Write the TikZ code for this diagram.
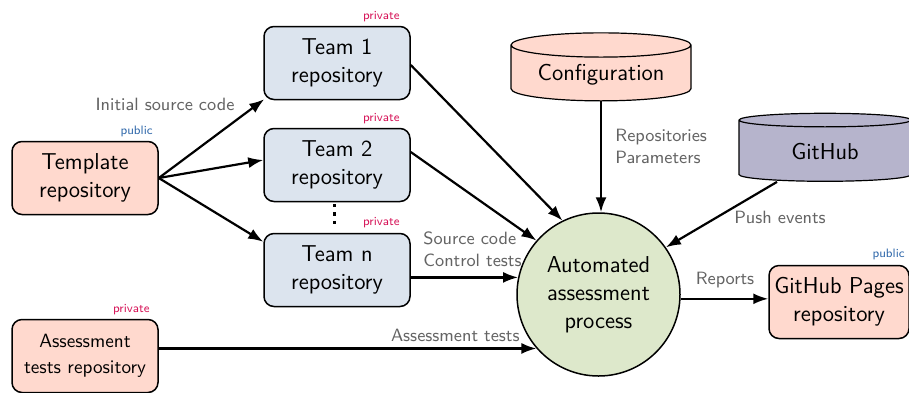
\documentclass[tikz,border=0pt]{standalone}
\usepackage{fontspec}
\usetikzlibrary{arrows.meta,shapes.geometric,calc}

\definecolor{repofill}{RGB}{255,217,206}
\definecolor{teamfill}{RGB}{220,228,238}
\definecolor{procfill}{RGB}{221,232,203}
\definecolor{hubfill}{RGB}{182,180,204}
\definecolor{pubcol}{RGB}{48,104,170}
\definecolor{privcol}{RGB}{214,20,88}
\definecolor{labelcol}{RGB}{100,100,100}

\tikzset{
  every node/.style={font=\sffamily},
  repobox/.style={draw, line width=0.75pt, rounded corners=5pt, align=center,
    minimum width=73pt, minimum height=36.5pt, inner sep=2pt,
    font=\sffamily\fontsize{11.5}{14}\selectfont},
  template/.style={repobox, fill=repofill},
  teambox/.style={repobox, fill=teamfill},
  store/.style={draw, line width=0.6pt, cylinder, shape border rotate=90, aspect=0.18,
    minimum width=90pt, minimum height=34pt, inner sep=2pt,
    font=\sffamily\fontsize{11.5}{14}\selectfont},
  procnode/.style={draw, line width=0.75pt, circle, fill=procfill, minimum size=81.5pt,
    align=center, inner sep=0pt, font=\sffamily\fontsize{11.5}{14}\selectfont},
  flow/.style={line width=1.1pt, -{Latex[length=7.5pt,width=5.5pt]}},
  edgelabel/.style={text=labelcol, inner sep=1pt, align=left,
    font=\sffamily\fontsize{8.9}{11}\selectfont},
  pubtag/.style={text=pubcol, inner sep=0pt, font=\sffamily\fontsize{6.1}{7}\selectfont},
  privtag/.style={text=privcol, inner sep=0pt, font=\sffamily\fontsize{6.1}{7}\selectfont},
}

\begin{document}
\begin{tikzpicture}[x=0.5pt,y=-0.5pt]
  \useasboundingbox (0,0) rectangle (909,392);

  % repositories
  \node[template] (tpl) at (85,178) {Template\\repository};
  \node[teambox] (t1) at (337,63) {Team 1\\repository};
  \node[teambox] (t2) at (337,165) {Team 2\\repository};
  \node[teambox] (tn) at (337,270) {Team n\\repository};
  \node[template, font=\sffamily\fontsize{9.6}{13}\selectfont] (ats) at (85,356) {Assessment\\tests repository};
  \node[template, minimum width=70pt] (pages) at (839,302) {GitHub Pages\\repository};

  % data stores
  \node[store, fill=repofill] (cfg) at (601,75) {Configuration};
  \node[store, fill=hubfill, minimum width=86pt] (hub) at (825,152) {GitHub};

  % central process
  \node[procnode] (proc) at (598.5,294.5) {Automated\\assessment\\process};

  % visibility tags
  \node[pubtag, anchor=south east] (tagtpl) at (153,137) {public};
  \node[privtag, anchor=south east] (tagt1) at (400,22) {private};
  \node[privtag, anchor=south east] (tagt2) at (400,124) {private};
  \node[privtag, anchor=south east] (tagtn) at (400,228) {private};
  \node[privtag, anchor=south east] (tagats) at (150,315) {private};
  \node[pubtag, anchor=south east] (tagpages) at (905,260) {public};

  % more teams
  \coordinate (dotsA) at (334,204);
  \coordinate (dotsB) at (334,227);
  \draw[line width=1.5pt, dash pattern=on 1.6pt off 2.6pt] (dotsA) -- (dotsB);

  % template forks
  \draw[flow] (tpl.east) -- ($(t1.south west)+(1,-1)$);
  \draw[flow] (tpl.east) -- ($(t2.west)+(0,-5)$);
  \draw[flow] (tpl.east) -- ($(tn.north west)+(0,9)$);
  \node[edgelabel] (lblinit) at (165,104) {Initial source code};

  % inputs of the assessment
  \draw[flow] ($(t1.east)+(0,2)$) -- (proc.116);
  \draw[flow] ($(t2.east)+(0,-13)$) -- (proc.139);
  \draw[flow] (proc.168.3 -| tn.east) -- (proc.168.3);
  \node[edgelabel, anchor=west] (lblsrc) at (421,249) {Source code\\Control tests};

  \draw[flow] (proc.221 -| ats.east) -- (proc.221);
  \node[edgelabel, anchor=east] (lblats) at (522,335) {Assessment tests};

  \draw[flow] (cfg.bottom) -- (cfg.bottom |- proc.north);
  \node[edgelabel, anchor=west] (lblcfg) at (613,146) {Repositories\\Parameters};

  \draw[flow] (hub.bottom) ++(-48,0) coordinate (hubout) -- (proc.35);
  \node[edgelabel] (lblpush) at (780,217) {Push events};

  % output
  \draw[flow] (proc.357.5) -- (proc.357.5 -| pages.west);
  \node[edgelabel] (lblrep) at (725,280) {Reports};
\end{tikzpicture}
\end{document}
